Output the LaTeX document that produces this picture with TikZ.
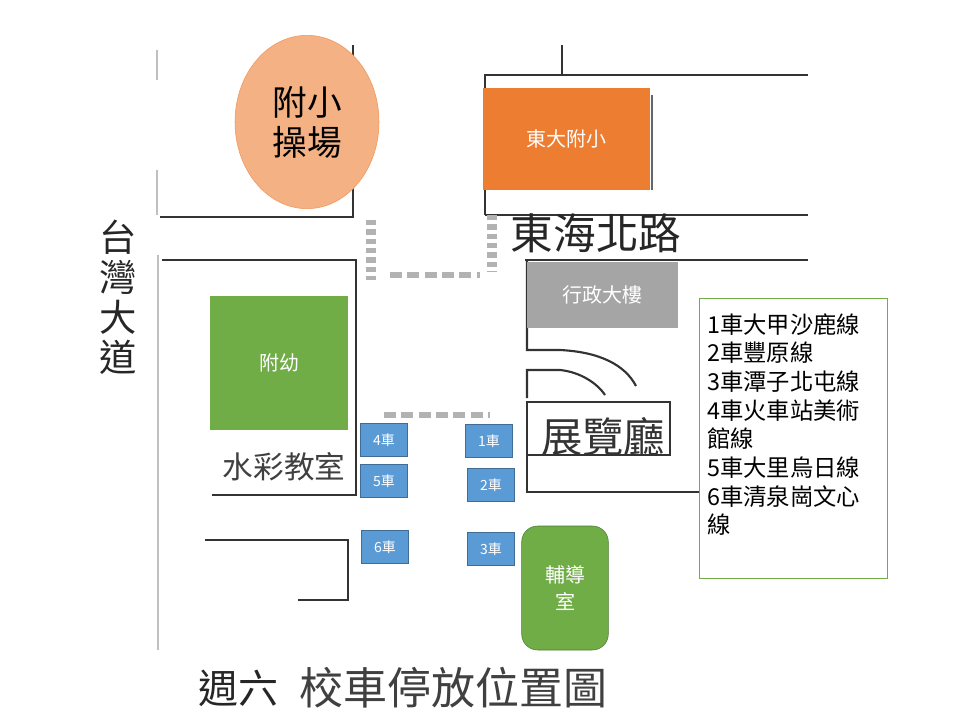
\documentclass[tikz,border=0pt]{standalone}
\usepackage{fontspec}
\setmainfont{Noto Sans CJK TC}
\usetikzlibrary{shapes.geometric}
\definecolor{org}{HTML}{ED7D31}
\definecolor{peach}{HTML}{F4B183}
\definecolor{grn}{HTML}{70AD47}
\definecolor{blu}{HTML}{5B9BD5}
\definecolor{gry}{HTML}{A5A5A5}
\begin{document}
\begin{tikzpicture}[x=0.75pt,y=-0.75pt,
  wall/.style={draw=black!80,line width=1.6pt},
  gwall/.style={draw=black!25,line width=1.6pt},
  zebra/.style={draw=black!30,line width=7pt,dash pattern=on 4pt off 3pt},
  hzebra/.style={draw=black!30,line width=5pt,dash pattern=on 9pt off 4pt},
  bus/.style={fill=blu,draw=blu!70!black,text=white,font=\fontsize{10.5}{11}\selectfont,minimum width=35pt,minimum height=25pt,inner sep=0pt},
  big/.style={font=\fontsize{26}{30}\selectfont}]
\useasboundingbox (0,0) rectangle (960,720);
% roads
\draw[gwall] (157,50)--(157,80) (157,170)--(157,215) (158,255)--(158,650);
\draw[wall] (160,217)--(353,217)--(353,45);
\draw[wall] (485,215)--(485,75)--(562,75)--(562,45) (562,75)--(808,75);
\draw[wall] (485,215)--(808,215);
\draw[wall] (162,260)--(356,260)--(356,495)--(212,495);
\draw[wall] (205,540)--(348,540)--(348,600)--(298,600);
\draw[wall] (525,260)--(808,260);
\draw[wall] (527,260)--(527,350)--(560,350) .. controls (600,352) and (625,365) .. (636,386);
\draw[wall] (527,398)--(527,370)--(560,370) .. controls (580,372) and (597,383) .. (605,395);
\draw[wall] (527,402) rectangle (670,455);
\draw[wall] (527,455)--(527,492)--(700,492);
% crosswalks
\draw[zebra] (371,220)--(371,280);
\draw[zebra] (492,215)--(492,272);
\draw[hzebra] (390,275)--(480,275);
\draw[hzebra] (384,415)--(490,415);
% buildings
\node[ellipse,fill=peach,draw=org!80,minimum width=108pt,minimum height=130pt,big,align=center,inner sep=0pt] (pg) at (307,122) {附小\\操場};
\node[fill=org,minimum width=125pt,minimum height=77pt,text=white,font=\fontsize{15}{18}\selectfont] (ds) at (566.5,139) {東大附小};
\draw[black!60,line width=0.8pt] (652,95)--(652,190);
\node[fill=gry,minimum width=113pt,minimum height=50pt,text=white,font=\fontsize{15}{18}\selectfont] (xz) at (602.5,295) {行政大樓};
\node[fill=grn,minimum width=103pt,minimum height=100pt,text=white,font=\fontsize{15}{18}\selectfont] (fy) at (279,363) {附幼};
\node[fill=grn,draw=grn!70!black,rounded corners=12pt,minimum width=65pt,minimum height=93pt,text=white,font=\fontsize{15}{20}\selectfont,align=center] (fd) at (565,588) {輔導\\室};
\node[font=\fontsize{31}{34}\selectfont,text=black!80] (zl) at (603,437) {展覽廳};
\node[font=\fontsize{23}{26}\selectfont,text=black!75] (sc) at (284,467) {水彩教室};
% bus boxes
\node[bus] (b4) at (384,440) {4車};
\node[bus] (b1) at (489,441) {1車};
\node[bus] (b5) at (384,481) {5車};
\node[bus] (b2) at (491,485) {2車};
\node[bus] (b6) at (385,547) {6車};
\node[bus] (b3) at (491,549) {3車};
% labels
\node[align=center,text=black!85,font=\fontsize{28}{30}\selectfont] (td) at (118,297) {台\\灣\\大\\道};
\node[font=\fontsize{32}{34}\selectfont,text=black!85] (dh) at (596,233) {東海北路};
\node[font=\fontsize{30}{34}\selectfont,text=black!85,anchor=west] (t1) at (194,688) {週六};
\node[font=\fontsize{33}{36}\selectfont,text=black!75,anchor=west] (t2) at (295,688) {校車停放位置圖};
% legend
\node[draw=grn,line width=0.6pt,minimum width=141pt,minimum height=210pt] (lg) at (793.5,438) {};
\node[anchor=north west,align=left,font=\fontsize{17.5}{21.5}\selectfont,inner sep=0pt] (lt) at (707,313) {1車大甲沙鹿線\\2車豐原線\\3車潭子北屯線\\4車火車站美術\\館線\\5車大里烏日線\\6車清泉崗文心\\線};
\end{tikzpicture}
\end{document}
